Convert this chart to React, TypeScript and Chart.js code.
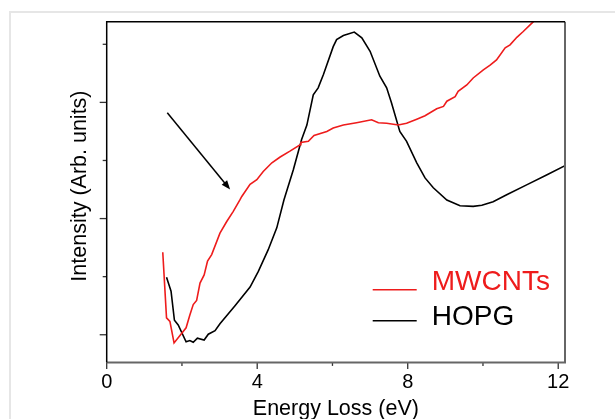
import React, { useEffect, useRef } from 'react';
import { Chart, registerables } from 'chart.js';

Chart.register(...registerables);

// ---- data (Energy loss in eV, intensity in arbitrary units) ----
const seriesLabels = ['MWCNTs', 'HOPG'];
const seriesColors = ['#ee1c1c', '#000000'];

const mwcntsX = [1.49, 1.59, 1.68, 1.79, 2.11, 2.21, 2.30, 2.39, 2.48, 2.59, 2.68, 2.79, 3.01, 3.19, 3.36, 3.54, 3.59, 3.81, 3.99, 4.16, 4.39, 4.61, 4.87, 5.14, 5.16, 5.36, 5.51, 5.85, 6.02, 6.29, 6.64, 7.04, 7.22, 7.44, 7.75, 7.97, 8.24, 8.46, 8.77, 8.95, 9.04, 9.26, 9.34, 9.57, 9.74, 10.01, 10.19, 10.36, 10.59, 10.72, 10.90, 11.07, 11.34, 11.60];
const mwcntsY = [1.42, 0.29, 0.23, -0.14, 0.12, 0.34, 0.52, 0.59, 0.89, 1.03, 1.27, 1.38, 1.75, 1.95, 2.12, 2.32, 2.38, 2.59, 2.67, 2.81, 2.96, 3.06, 3.16, 3.27, 3.31, 3.33, 3.43, 3.50, 3.56, 3.61, 3.65, 3.70, 3.65, 3.64, 3.61, 3.64, 3.71, 3.77, 3.89, 3.93, 4.02, 4.10, 4.19, 4.30, 4.42, 4.56, 4.64, 4.73, 4.94, 4.99, 5.12, 5.22, 5.39, 5.62];

const hopgX = [1.59, 1.71, 1.80, 1.90, 2.11, 2.21, 2.30, 2.41, 2.59, 2.70, 2.88, 3.01, 3.41, 3.81, 4.03, 4.29, 4.52, 4.71, 4.96, 5.18, 5.32, 5.49, 5.62, 5.76, 6.02, 6.11, 6.29, 6.58, 6.78, 7.00, 7.26, 7.44, 7.57, 7.79, 7.97, 8.24, 8.46, 8.68, 9.04, 9.39, 9.74, 9.97, 10.27, 10.63, 11.16, 11.69, 12.18];
const hopgY = [0.99, 0.75, 0.25, 0.17, -0.12, -0.10, -0.13, -0.06, -0.09, 0.01, 0.07, 0.19, 0.50, 0.82, 1.09, 1.46, 1.84, 2.32, 2.84, 3.36, 3.61, 4.13, 4.25, 4.48, 4.96, 5.08, 5.15, 5.21, 5.11, 4.88, 4.45, 4.25, 3.99, 3.50, 3.33, 2.96, 2.70, 2.53, 2.32, 2.22, 2.21, 2.23, 2.29, 2.41, 2.58, 2.75, 2.91];

const xTicks = [0, 2, 4, 6, 8, 10, 12];
const xMajorTicks = [0, 4, 8, 12];
const yTicks = [0, 1, 2, 3, 4, 5];
const yMajorTicks = [0, 2, 4];
const xRange = [0, 12.18];
const yRange = [-0.476, 5.389];

const arrowFrom = [1.61, 3.82];
const arrowTo = [3.28, 2.5];

const xTitle = 'Energy Loss (eV)';
const yTitle = 'Intensity (Arb. units)';

const FONT = "'Liberation Sans', Arial, sans-serif";

const toPoints = (xs: number[], ys: number[]) => xs.map((x, i) => ({ x, y: ys[i] }));

const framePlugin = {
  id: 'framePlugin',
  afterDraw(chart: any) {
    const { ctx, chartArea: a, scales } = chart;
    const x = scales.x;
    const y = scales.y;
    ctx.save();

    // tick marks
    ctx.strokeStyle = '#333';
    ctx.lineWidth = 1.3;
    x.ticks.forEach((t: any) => {
      const px = x.getPixelForValue(t.value);
      const len = xMajorTicks.includes(t.value) ? 6.5 : 3.5;
      ctx.beginPath();
      ctx.moveTo(px, a.bottom);
      ctx.lineTo(px, a.bottom + len);
      ctx.stroke();
    });
    y.ticks.forEach((t: any) => {
      const py = y.getPixelForValue(t.value);
      const len = yMajorTicks.includes(t.value) ? 7 : 4;
      ctx.beginPath();
      ctx.moveTo(a.left - len, py);
      ctx.lineTo(a.left, py);
      ctx.stroke();
    });

    // frame
    ctx.strokeStyle = '#666';
    ctx.lineWidth = 2;
    ctx.beginPath();
    ctx.moveTo(a.left, a.bottom);
    ctx.lineTo(a.right, a.bottom);
    ctx.lineTo(a.right, a.top);
    ctx.stroke();
    ctx.strokeStyle = '#000';
    ctx.lineWidth = 1.5;
    ctx.beginPath();
    ctx.moveTo(a.left, a.bottom);
    ctx.lineTo(a.left, a.top);
    ctx.lineTo(a.right, a.top);
    ctx.stroke();

    // arrow
    const x0 = x.getPixelForValue(arrowFrom[0]);
    const y0 = y.getPixelForValue(arrowFrom[1]);
    const x1 = x.getPixelForValue(arrowTo[0]);
    const y1 = y.getPixelForValue(arrowTo[1]);
    const ang = Math.atan2(y1 - y0, x1 - x0);
    const headLen = 9;
    const headW = 3.5;
    ctx.strokeStyle = '#000';
    ctx.fillStyle = '#000';
    ctx.lineWidth = 1.5;
    ctx.beginPath();
    ctx.moveTo(x0, y0);
    ctx.lineTo(x1 - headLen * 0.8 * Math.cos(ang), y1 - headLen * 0.8 * Math.sin(ang));
    ctx.stroke();
    ctx.beginPath();
    ctx.moveTo(x1, y1);
    ctx.lineTo(x1 - headLen * Math.cos(ang) + headW * Math.sin(ang), y1 - headLen * Math.sin(ang) - headW * Math.cos(ang));
    ctx.lineTo(x1 - headLen * Math.cos(ang) - headW * Math.sin(ang), y1 - headLen * Math.sin(ang) + headW * Math.cos(ang));
    ctx.closePath();
    ctx.fill();

    // legend
    const rows = [a.bottom - 72.7, a.bottom - 41.7];
    const textY = [a.bottom - 79.7, a.bottom - 45];
    ctx.font = `28px ${FONT}`;
    ctx.textBaseline = 'middle';
    ctx.textAlign = 'left';
    chart.data.datasets.forEach((ds: any, i: number) => {
      ctx.strokeStyle = ds.borderColor;
      ctx.lineWidth = 1.6;
      ctx.beginPath();
      ctx.moveTo(a.right - 192.3, rows[i]);
      ctx.lineTo(a.right - 148.3, rows[i]);
      ctx.stroke();
      ctx.fillStyle = ds.borderColor;
      ctx.fillText(ds.label, a.right - 133.3, textY[i]);
    });

    ctx.restore();
  },
};

export default function App() {
  const ref = useRef<HTMLCanvasElement | null>(null);

  useEffect(() => {
    if (!ref.current) return;
    const chart = new Chart(ref.current, {
      type: 'line',
      data: {
        datasets: [
          {
            label: seriesLabels[0],
            data: toPoints(mwcntsX, mwcntsY),
            borderColor: seriesColors[0],
            borderWidth: 1.6,
            pointRadius: 0,
            tension: 0,
            fill: false,
          },
          {
            label: seriesLabels[1],
            data: toPoints(hopgX, hopgY),
            borderColor: seriesColors[1],
            borderWidth: 1.6,
            pointRadius: 0,
            tension: 0,
            fill: false,
          },
        ],
      },
      options: {
        responsive: false,
        devicePixelRatio: 1,
        animation: false,
        layout: { padding: { left: 40, top: 8.7, right: 50, bottom: 10.7 } },
        plugins: { legend: { display: false }, tooltip: { enabled: false } },
        scales: {
          x: {
            type: 'linear',
            min: xRange[0],
            max: xRange[1],
            afterBuildTicks: (s: any) => {
              s.ticks = xTicks.map((v) => ({ value: v }));
            },
            grid: { display: false, drawTicks: false },
            border: { display: false },
            ticks: {
              autoSkip: false,
              maxRotation: 0,
              padding: 8,
              color: '#000',
              font: { family: FONT, size: 20 },
              callback: (v: any) => (xMajorTicks.includes(Number(v)) ? String(v) : ''),
            },
            title: {
              display: true,
              text: xTitle,
              color: '#000',
              font: { family: FONT, size: 21.5 },
              padding: { top: -5.9, bottom: 0 },
            },
          },
          y: {
            type: 'linear',
            min: yRange[0],
            max: yRange[1],
            afterBuildTicks: (s: any) => {
              s.ticks = yTicks.map((v) => ({ value: v }));
            },
            grid: { display: false, drawTicks: false },
            border: { display: false },
            ticks: { display: false },
            title: {
              display: true,
              text: '  ' + yTitle,
              color: '#000',
              font: { family: FONT, size: 21.5 },
              padding: { top: 16.1, bottom: 13.8 },
            },
          },
        },
      },
      plugins: [framePlugin],
    } as any);
    return () => chart.destroy();
  }, []);

  return (
    <div
      style={{
        position: 'fixed',
        left: 9,
        top: 11,
        width: 604,
        height: 420,
        borderLeft: '2px solid #e6e6e6',
        borderTop: '2px solid #e6e6e6',
        background: '#fff',
      }}
    >
      <canvas ref={ref} width={604} height={420} style={{ display: 'block' }} />
    </div>
  );
}
